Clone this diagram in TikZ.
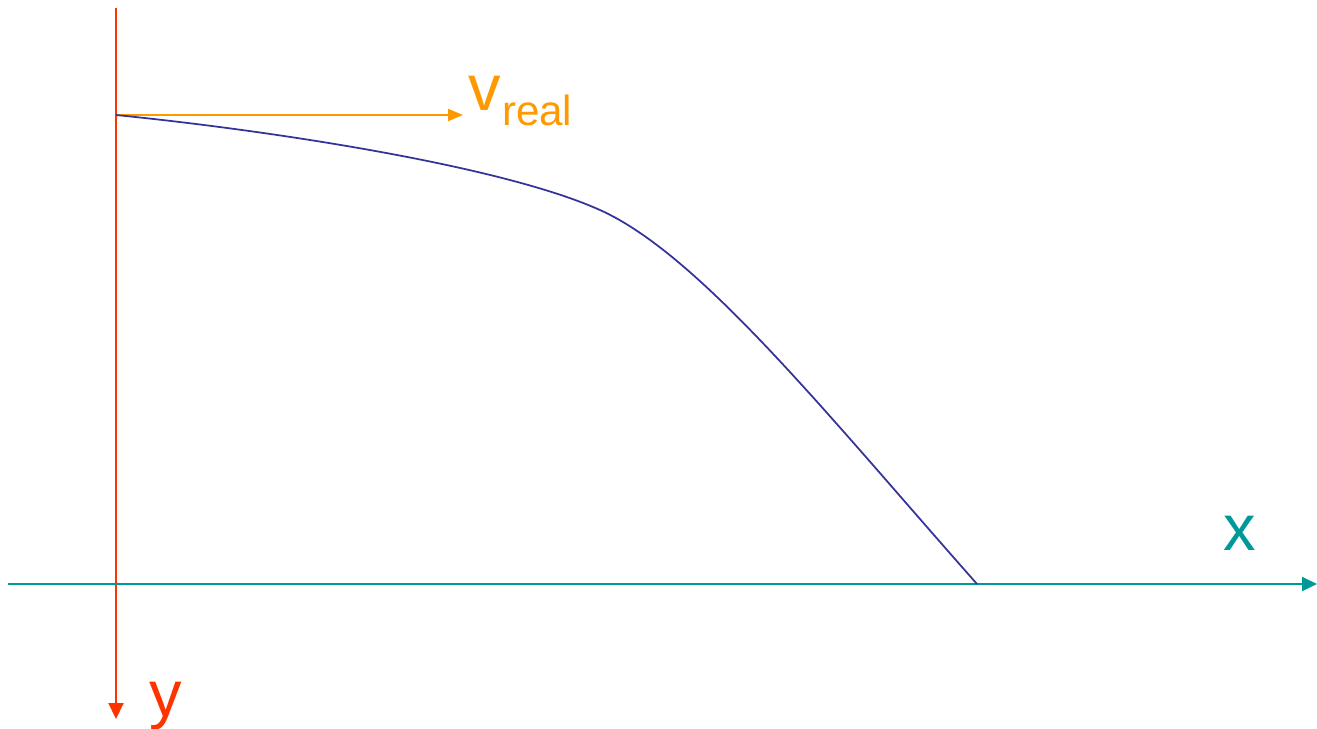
\documentclass[tikz,border=0pt]{standalone}
\usepackage{fontspec}
\setmainfont{Liberation Sans}
\usetikzlibrary{arrows.meta}
\definecolor{axred}{HTML}{FF3300}
\definecolor{vorange}{HTML}{FF9900}
\definecolor{axteal}{HTML}{009999}
\definecolor{curveblue}{HTML}{333399}
\tikzset{
  axisline/.style={line width=0.04cm},
  lbl/.style={inner sep=0pt, outer sep=0pt}
}
\begin{document}
\begin{tikzpicture}[x=0.02cm,y=-0.02cm]
\useasboundingbox (0,0) rectangle (1317,728);
\coordinate (ytop) at (116,8);
\coordinate (ybot) at (116,719);
\coordinate (xl) at (8,584);
\coordinate (xr) at (1317,584);
\coordinate (start) at (116,115);
\coordinate (vend) at (463,115);
\coordinate (mid) at (600,210);
\coordinate (land) at (977,584);
% axes
\draw[axisline, axred, -{Triangle[length=0.32cm,width=0.3cm]}] (ytop) -- (ybot);
\draw[axisline, axteal, -{Triangle[length=0.3cm,width=0.28cm]}] (xl) -- (xr);
% velocity arrow
\draw[axisline, vorange, -{Triangle[length=0.3cm,width=0.24cm]}] (start) -- (vend);
% trajectory
\draw[curveblue, line width=0.035cm] (start) .. controls (266,130) and (500,165) .. (mid)
  .. controls (700,255) and (827,414.5) .. (land);
% labels
\node[lbl, anchor=base west, text=vorange, font=\fontsize{37}{40}\selectfont] (v) at (468,110) {v};
\node[lbl, anchor=base west, text=vorange, font=\fontsize{24}{28}\selectfont] (real) at (502,125) {real};
\node[lbl, anchor=base, text=axteal, font=\fontsize{37}{40}\selectfont] (xlab) at (1240,550) {x};
\node[lbl, anchor=base, text=axred, font=\fontsize{37}{40}\selectfont] (ylab) at (166,716) {y};
\end{tikzpicture}
\end{document}
